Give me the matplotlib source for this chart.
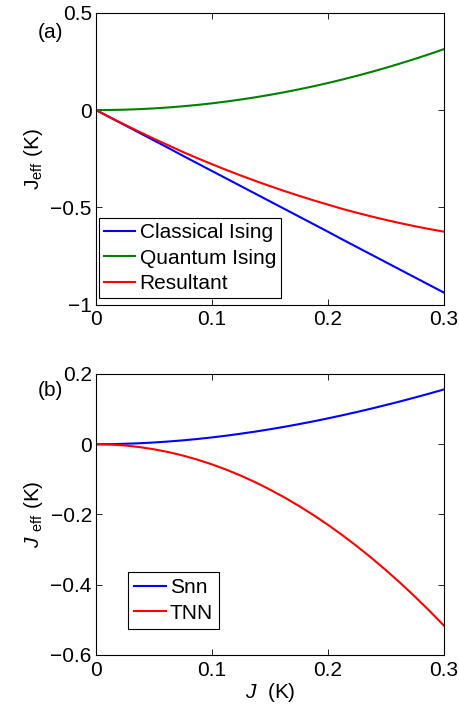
import matplotlib
matplotlib.use("Agg")
import matplotlib.pyplot as plt

plt.rcParams['font.family'] = ['Liberation Sans', 'DejaVu Sans']
plt.rcParams['mathtext.fontset'] = 'custom'
plt.rcParams['mathtext.rm'] = 'Liberation Sans'
plt.rcParams['mathtext.it'] = 'Liberation Sans:italic'
plt.rcParams['font.size'] = 15
plt.rcParams['axes.linewidth'] = 0.8

# J (K) values
J = [0, 0.0125, 0.025, 0.0375, 0.05, 0.0625, 0.075, 0.0875, 0.1, 0.1125, 0.125, 0.1375, 0.15,
     0.1625, 0.175, 0.1875, 0.2, 0.2125, 0.225, 0.2375, 0.25, 0.2625, 0.275, 0.2875, 0.3]

# panel (a)
classical = [0, -0.039, -0.078, -0.117, -0.156, -0.195, -0.235, -0.274, -0.313, -0.352, -0.391, -0.430, -0.469,
             -0.508, -0.547, -0.586, -0.625, -0.665, -0.704, -0.743, -0.782, -0.821, -0.860, -0.899, -0.938]
quantum = [0, 0.0005, 0.0022, 0.0049, 0.0087, 0.0136, 0.0196, 0.0266, 0.0348, 0.0440, 0.0544, 0.0658, 0.0783,
           0.0919, 0.1066, 0.1223, 0.1392, 0.1571, 0.1762, 0.1963, 0.2175, 0.2398, 0.2632, 0.2876, 0.3132]
resultant = [0, -0.0385, -0.0758, -0.1121, -0.1473, -0.1814, -0.2154, -0.2474, -0.2782, -0.3080, -0.3366, -0.3642, -0.3907,
             -0.4161, -0.4404, -0.4637, -0.4858, -0.5079, -0.5278, -0.5467, -0.5645, -0.5812, -0.5968, -0.6114, -0.6248]

# panel (b)
snn = [0, 0.0003, 0.0013, 0.0028, 0.0050, 0.0078, 0.0111, 0.0150, 0.0195, 0.0245, 0.0301, 0.0361, 0.0427,
       0.0497, 0.0573, 0.0652, 0.0737, 0.0826, 0.0919, 0.1016, 0.1117, 0.1222, 0.1331, 0.1444, 0.1560]
tnn = [0, -0.0009, -0.0036, -0.0081, -0.0144, -0.0224, -0.0323, -0.0439, -0.0574, -0.0726, -0.0897, -0.1085, -0.1292,
       -0.1516, -0.1758, -0.2018, -0.2296, -0.2592, -0.2906, -0.3238, -0.3588, -0.3955, -0.4341, -0.4745, -0.5166]

x_ticks = [0, 0.1, 0.2, 0.3]
x_labels = ['0', '0.1', '0.2', '0.3']

fig = plt.figure(figsize=(4.6, 7.09), dpi=100)
ax1 = fig.add_axes([0.2087, 0.5702, 0.7565, 0.4118])
ax2 = fig.add_axes([0.2087, 0.0762, 0.7565, 0.3963])

blue = (0, 0, 1)
green = (0, 0.5, 0)
red = (1, 0, 0)
lw = 1.5

ax1.plot(J, classical, color=blue, lw=lw, label='Classical Ising')
ax1.plot(J, quantum, color=green, lw=lw, label='Quantum Ising')
ax1.plot(J, resultant, color=red, lw=lw, label='Resultant')
ax1.set_ylim(-1, 0.5)
ax1.set_yticks([-1, -0.5, 0, 0.5])
ax1.set_yticklabels(['\u22121', '\u22120.5', '0', '0.5'])
ax1.set_ylabel(r'J$_{\mathrm{eff}}$ (K)', labelpad=4)

ax2.plot(J, snn, color=blue, lw=lw, label='Snn')
ax2.plot(J, tnn, color=red, lw=lw, label='TNN')
ax2.set_ylim(-0.6, 0.2)
ax2.set_yticks([-0.6, -0.4, -0.2, 0, 0.2])
ax2.set_yticklabels(['\u22120.6', '\u22120.4', '\u22120.2', '0', '0.2'])
ax2.set_ylabel(r'$J$ $_{\mathrm{eff}}$ (K)', labelpad=4)
ax2.set_xlabel(r'$J$  (K)', labelpad=1)

for ax in (ax1, ax2):
    ax.set_xlim(0, 0.3)
    ax.set_xticks(x_ticks)
    ax.set_xticklabels(x_labels)
    ax.tick_params(direction='in', top=True, right=True, length=4, width=0.6)
    ax.tick_params(axis='x', pad=4)
    ax.tick_params(axis='y', pad=3)

leg1 = ax1.legend(loc='lower left', bbox_to_anchor=(0.0086, 0.023), borderaxespad=0,
                  fancybox=False, edgecolor='black', framealpha=1, handlelength=1.5,
                  handletextpad=0.2, borderpad=0.25, labelspacing=0.3)
leg1.get_frame().set_linewidth(0.8)
leg2 = ax2.legend(loc='lower left', bbox_to_anchor=(0.092, 0.0925), borderaxespad=0,
                  fancybox=False, edgecolor='black', framealpha=1, handlelength=1.5,
                  handletextpad=0.2, borderpad=0.3, labelspacing=0.3)
leg2.get_frame().set_linewidth(0.8)

fig.text(38 / 460, 1 - 32 / 709, '(a)', fontsize=15, va='center', ha='left')
fig.text(38 / 460, 1 - 390 / 709, '(b)', fontsize=15, va='center', ha='left')

plt.savefig('out.png', dpi=100)
